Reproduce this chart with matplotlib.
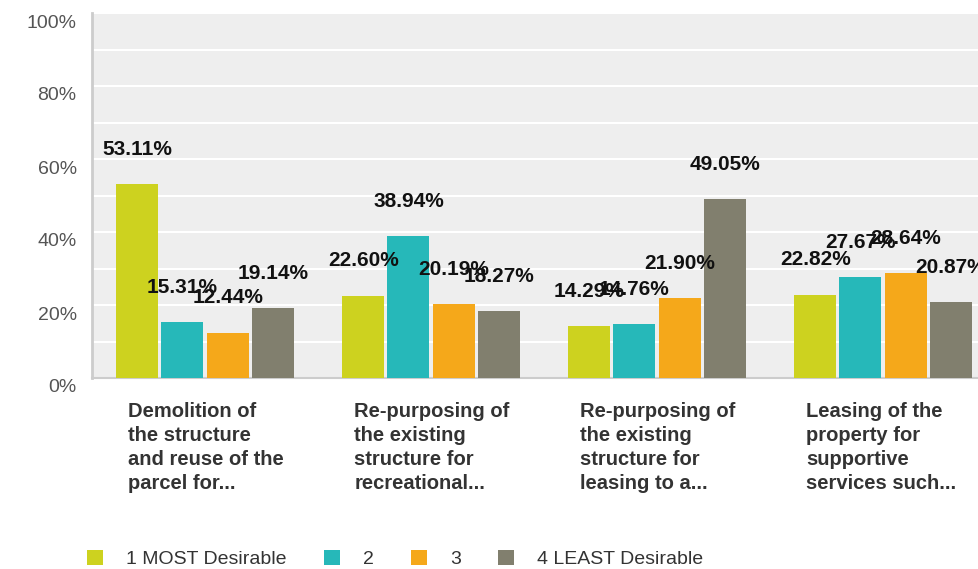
import matplotlib
matplotlib.use("Agg")
import matplotlib.pyplot as plt
import matplotlib.transforms as mtransforms
from matplotlib.patches import Patch
import numpy as np

plt.rcParams['font.family'] = ['Liberation Sans', 'DejaVu Sans']

# survey answers, share of respondents (%)
categories = [
    "Demolition of\nthe structure\nand reuse of the\nparcel for...",
    "Re-purposing of\nthe existing\nstructure for\nrecreational...",
    "Re-purposing of\nthe existing\nstructure for\nleasing to a...",
    "Leasing of the\nproperty for\nsupportive\nservices such...",
]
series_names = ["1 MOST Desirable", "2", "3", "4 LEAST Desirable"]
most = [53.11, 22.60, 14.29, 22.82]
second = [15.31, 38.94, 14.76, 27.67]
third = [12.44, 20.19, 21.90, 28.64]
least = [19.14, 18.27, 49.05, 20.87]
yticks = [0, 20, 40, 60, 80, 100]

colors = ["#cdd21f", "#26b8b9", "#f5a81a", "#817f6e"]
series = [most, second, third, least]

fig = plt.figure(figsize=(9.79, 5.69), dpi=100)
ax = fig.add_axes([92 / 979, 191 / 569, 904 / 979, 365 / 569])
ax.set_facecolor("#eeeeee")

x = np.arange(len(categories))
width = 0.186
offsets = [-0.3, -0.1, 0.1, 0.3]
for vals, off, col in zip(series, offsets, colors):
    bars = ax.bar(x + off, vals, width, color=col, edgecolor="none", zorder=3)
    for b, v in zip(bars, vals):
        ax.annotate(f"{v:.2f}%", xy=(b.get_x() + b.get_width() / 2, v),
                    xytext=(0, 25), textcoords="offset points",
                    ha="center", va="center", fontsize=15, fontweight="bold",
                    color="#111111", zorder=5)

ax.set_xlim(-0.5, len(categories) - 0.5)
ax.set_ylim(0, 100)
ax.set_yticks(yticks)
ax.set_yticklabels([f"{t}%" for t in yticks], fontsize=14, color="#555555")
ax.set_yticks(np.arange(0, 101, 10), minor=True)
ax.grid(axis="y", which="both", color="white", linewidth=1.5, zorder=1)
ax.tick_params(axis="y", which="both", length=0, pad=11)
ax.tick_params(axis="x", length=0, labelbottom=False)
shift = mtransforms.ScaledTranslation(0, -8 / 100, fig.dpi_scale_trans)
for lab in ax.get_yticklabels():
    lab.set_transform(lab.get_transform() + shift)

for s in ["top", "right"]:
    ax.spines[s].set_visible(False)
ax.spines["left"].set_color("#cccccc")
ax.spines["left"].set_linewidth(2)
ax.spines["bottom"].set_color("#cccccc")
ax.spines["bottom"].set_linewidth(1.5)

for i, cat in enumerate(categories):
    ax.annotate(cat, xy=(i - 0.34, 0), xycoords=("data", "axes fraction"),
                xytext=(0, -17), textcoords="offset points",
                ha="left", va="top", fontsize=14.5, fontweight="bold",
                color="#333333", linespacing=1.35)

handles = [Patch(facecolor=c, edgecolor="none") for c in colors]
fig.legend(handles, series_names, loc="center left",
           bbox_to_anchor=(87 / 979, 10 / 569), ncol=4, frameon=False,
           fontsize=14, handlelength=0.82, handleheight=0.82,
           handletextpad=1.2, columnspacing=1.9, borderpad=0,
           borderaxespad=0, labelcolor="#333333")

fig.savefig("out.png", dpi=100)
